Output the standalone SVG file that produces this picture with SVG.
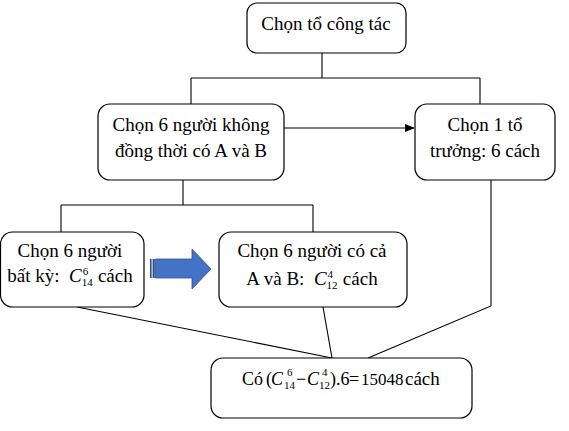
<svg xmlns="http://www.w3.org/2000/svg" width="569" height="431" viewBox="0 0 569 431">
<defs>
<style>
.box{fill:#fff;stroke:#000;stroke-width:1.2}
.t{font-size:19px;fill:#000;text-anchor:middle}
.m{font-size:18px;fill:#000}
.ln{stroke:#000;stroke-width:1.1;fill:none}
.it{font-style:italic}
.s{font-size:11px}
</style>
<marker id="ah" markerWidth="10" markerHeight="8" refX="9" refY="4" orient="auto" markerUnits="userSpaceOnUse">
<path d="M0,0 L10,4 L0,8 Z" fill="#000"/>
</marker>
</defs>
<rect width="569" height="431" fill="#fff"/>
<g id="connectors">
<path class="ln" d="M322,53 V78 M191,78 H480 M191,78 V104 M480,78 V104"/>
<path class="ln" d="M284,128 H414" marker-end="url(#ah)"/>
<path class="ln" d="M183,180 V205 M61,205 H313 M61,205 V232 M313,205 V232"/>
<path class="ln" d="M491,180 V306 L368,358"/>
<path class="ln" d="M77,307 L332,358"/>
<path class="ln" d="M323,307 L332,358"/>
</g>
<g font-family="Liberation Serif, DejaVu Serif, serif">
<g id="n-top">
<rect class="box" x="247" y="3" width="159" height="50" rx="10"/>
<text class="t" x="326" y="30">Chọn tổ công tác</text>
</g>
<g id="n-mid-left">
<rect class="box" x="98" y="104" width="186" height="76" rx="12"/>
<text class="t" x="191" y="131">Chọn 6 người không</text>
<text class="t" x="191" y="157">đồng thời có A và B</text>
</g>
<g id="n-right">
<rect class="box" x="415" y="104" width="140" height="76" rx="12"/>
<text class="t" x="485" y="131">Chọn 1 tổ</text>
<text class="t" x="485" y="157">trưởng: 6 cách</text>
</g>
<g id="n-any">
<rect class="box" x="0.5" y="232" width="143.5" height="75" rx="12"/>
<text class="t" x="70" y="257">Chọn 6 người</text>
<text class="t" x="70" y="282" xml:space="preserve">bất kỳ:  <tspan class="it">C</tspan><tspan class="s" dy="4">14</tspan><tspan class="s" dx="-10" dy="-11">6</tspan><tspan dx="5" dy="7"> cách</tspan></text>
</g>
<g id="block-arrow">
<rect x="150" y="259" width="1.6" height="19" fill="#2F528F"/>
<rect x="152.6" y="259" width="2.2" height="19" fill="#2F528F"/>
<path d="M155.5,259 H192 V249 L211,269 L192,289 V278 H155.5 Z" fill="#4472C4" stroke="#2F528F" stroke-width="0.8"/>
</g>
<g id="n-both">
<rect class="box" x="219" y="232" width="188" height="75" rx="12"/>
<text class="t" x="312" y="257">Chọn 6 người có cả</text>
<text class="t" x="312" y="285" xml:space="preserve">A và B:  <tspan class="it">C</tspan><tspan class="s" dy="4">12</tspan><tspan class="s" dx="-10" dy="-11">4</tspan><tspan dx="5" dy="7"> cách</tspan></text>
</g>
<g id="n-result">
<rect class="box" x="211" y="358" width="261" height="60" rx="12"/>
<text class="m"><tspan x="242" y="385">Có</tspan><tspan x="266" y="385">(</tspan><tspan x="271" y="385" class="it">C</tspan><tspan x="284" y="389" class="s">14</tspan><tspan x="287" y="376" class="s">6</tspan><tspan x="296" y="385">−</tspan><tspan x="307" y="385" class="it">C</tspan><tspan x="319" y="389" class="s">12</tspan><tspan x="322" y="376" class="s">4</tspan><tspan x="330" y="385">).6</tspan><tspan x="349" y="385">=</tspan><tspan x="361" y="385" font-size="17">15048</tspan><tspan x="405" y="385" font-size="19">cách</tspan></text>
</g>
</g>
</svg>
